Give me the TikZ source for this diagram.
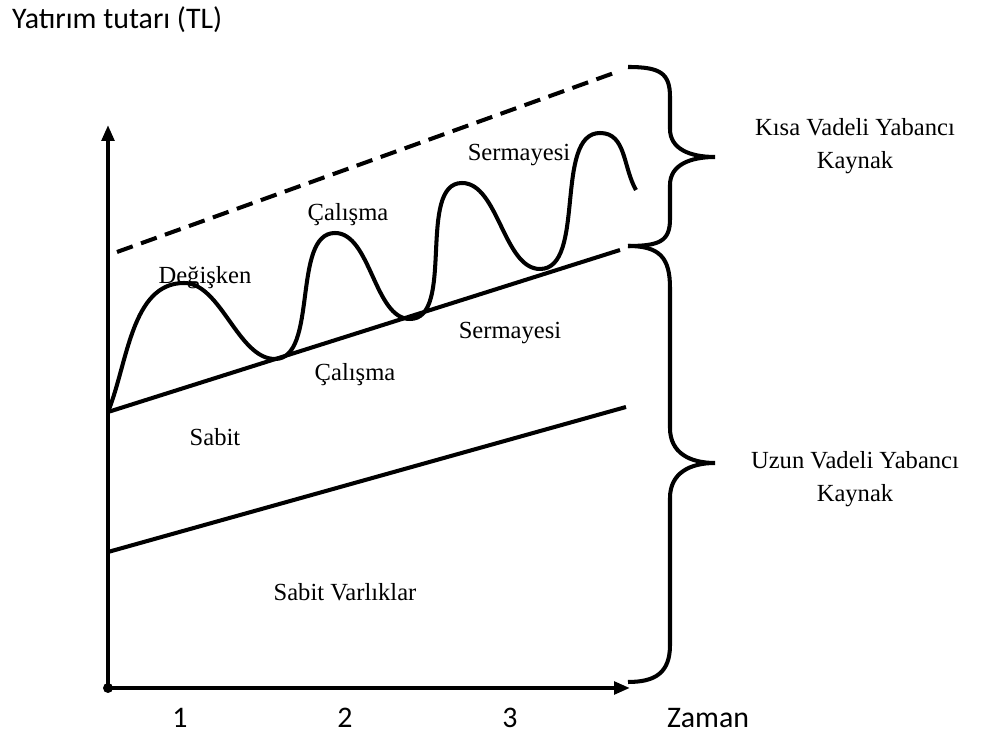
\documentclass[tikz,border=0pt]{standalone}
\usepackage{fontspec}
\setmainfont{Liberation Serif}
\newfontfamily\carlito{Carlito}
\usetikzlibrary{arrows.meta}

\begin{document}
\begin{tikzpicture}[x=0.02cm, y=0.02cm,
    axis/.style={line width=2.3pt, -{Triangle[length=9pt, width=7pt]}},
    curve/.style={line width=2.3pt},
    brace/.style={line width=2.3pt},
    lbl/.style={font=\fontsize{14}{16}\selectfont, inner sep=1pt},
    sidelbl/.style={font=\fontsize{14}{19}\selectfont, align=center},
    tick/.style={font=\carlito\fontsize{17}{19}\selectfont}
  ]
  \useasboundingbox (0,0) rectangle (988,733);

  \coordinate (O) at (108,45);
  \coordinate (ytip) at (108,608);
  \coordinate (xtip) at (630,45);

  % axes
  \draw[axis] (O) -- (ytip);
  \draw[axis] (O) -- (xtip);
  \fill (O) circle (5);

  \node[tick, anchor=west] (ylab) at (6,713) {Yatırım tutarı (TL)};
  \node[tick] (t1) at (180,15) {1};
  \node[tick] (t2) at (345,15) {2};
  \node[tick] (t3) at (510,15) {3};
  \node[tick] (zaman) at (708,15) {Zaman};

  % sabit ve degisken sinirlar
  \coordinate (s1) at (108,181);
  \coordinate (s2) at (626,326);
  \coordinate (c1) at (108,321);
  \coordinate (c2) at (620,483);
  \coordinate (d1) at (117,481);
  \coordinate (d2) at (614,660);
  \draw[curve] (s1) -- (s2);
  \draw[curve] (c1) -- (c2);
  \draw[curve, dash pattern=on 9.5pt off 5pt] (d1) -- (d2);

  % dalga
  \draw[curve] (c1) to[out=68, in=180, looseness=0.9] (184,450)
    to[out=0, in=180, looseness=0.8] (275,374)
    to[out=0, in=180, looseness=0.8] (335,500)
    to[out=0, in=180, looseness=0.8] (410,414)
    to[out=0, in=180, looseness=0.8] (462,550)
    to[out=0, in=180, looseness=0.8] (540,464)
    to[out=0, in=180, looseness=0.8] (600,600)
    to[out=0, in=120] (636,543);

  % parantezler
  \draw[brace] (628,666) .. controls (660,666) and (670,660) .. (670,636)
    -- (670,604) .. controls (670,584) and (690,576) .. (715,576)
    .. controls (690,576) and (670,568) .. (670,548)
    -- (670,514) .. controls (670,492) and (660,487) .. (628,487);
  \draw[brace] (628,487) .. controls (660,487) and (670,475) .. (670,445)
    -- (670,305) .. controls (670,280) and (690,270) .. (715,270)
    .. controls (690,270) and (670,260) .. (670,235)
    -- (670,88) .. controls (670,60) and (655,51) .. (628,51);

  \node[lbl] (degisken) at (205,455) {Değişken};
  \node[lbl] (calisma1) at (348,518) {Çalışma};
  \node[lbl] (sermaye1) at (519,578) {Sermayesi};
  \node[lbl] (sermaye2) at (510,400) {Sermayesi};
  \node[lbl] (calisma2) at (355,358) {Çalışma};
  \node[lbl] (sabit) at (215,296) {Sabit};
  \node[lbl] (varlik) at (345,141) {Sabit Varlıklar};

  \node[sidelbl] (kisa) at (855,587) {Kısa Vadeli Yabancı\\Kaynak};
  \node[sidelbl] (uzun) at (855,254) {Uzun Vadeli Yabancı\\Kaynak};
\end{tikzpicture}
\end{document}
